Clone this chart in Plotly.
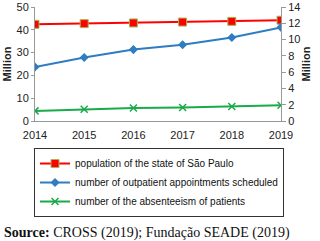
import plotly.graph_objects as go

years = [2014, 2015, 2016, 2017, 2018, 2019]
population = [42.4, 42.7, 43.0, 43.4, 43.7, 44.2]
appointments = [6.64, 7.8, 8.77, 9.37, 10.26, 11.5]
absenteeism = [1.24, 1.45, 1.6, 1.65, 1.77, 1.93]

names = ["population of the state of São Paulo",
         "number of outpatient appointments scheduled",
         "number of the absenteeism of patients"]

fig = go.Figure()
fig.add_trace(go.Scatter(x=years, y=population, name=names[0], mode="lines+markers",
                         line=dict(color="#FF0000", width=2),
                         marker=dict(symbol="square", size=8, color="#FF0000",
                                     line=dict(color="#9BBB59", width=1))))
fig.add_trace(go.Scatter(x=years, y=appointments, name=names[1], mode="lines+markers",
                         yaxis="y2", line=dict(color="#2E7CC2", width=2),
                         marker=dict(symbol="diamond", size=7, color="#2E7CC2")))
fig.add_trace(go.Scatter(x=years, y=absenteeism, name=names[2], mode="lines+markers",
                         yaxis="y2", line=dict(color="#1BAA4A", width=2),
                         marker=dict(symbol="x-thin-open", size=7,
                                     line=dict(color="#4CD07A", width=1.5))))

fig.update_layout(
    width=320, height=241,
    margin=dict(l=35, r=39, t=7, b=120, autoexpand=False),
    paper_bgcolor="white", plot_bgcolor="white",
    font=dict(family="Liberation Sans, Arial", size=11, color="#222"),
    showlegend=True,
    legend=dict(x=-0.004, y=-0.237, xanchor="left", yanchor="top",
                bordercolor="#333", borderwidth=1, bgcolor="white",
                font=dict(size=10, color="#111"), tracegroupgap=0,
                itemwidth=30),
    xaxis=dict(range=[2014, 2019], tickvals=years, showgrid=False,
               showline=True, linecolor="#999", ticks="outside", ticklen=4,
               tickcolor="rgba(0,0,0,0)", tickfont=dict(size=11),
               zeroline=False, automargin=False),
    yaxis=dict(range=[0, 50], dtick=10, showgrid=False, showline=True,
               linecolor="#999", ticks="outside", ticklen=3, tickcolor="#999",
               zeroline=False, tickfont=dict(size=11), automargin=False,
               title=dict(text="<b>Million</b>", font=dict(size=11), standoff=2)),
    yaxis2=dict(range=[0, 14], dtick=2, overlaying="y", side="right",
                showgrid=False, showline=True, linecolor="#999",
                ticks="outside", ticklen=4, tickcolor="#999", zeroline=False,
                tickfont=dict(size=11), automargin=False,
                title=dict(text="<b>Million</b>", font=dict(size=11), standoff=2)),
    annotations=[dict(text="<b>Source:</b> CROSS (2019); Fundação SEADE (2019)",
                      xref="paper", yref="paper", x=-0.135, y=-0.985,
                      xanchor="left", yanchor="middle", showarrow=False,
                      font=dict(family="Liberation Serif, Times New Roman", size=14, color="#111"))]
)

fig.write_html("out.html", config={"displayModeBar": False},
               post_script="document.body.style.margin='0';")
